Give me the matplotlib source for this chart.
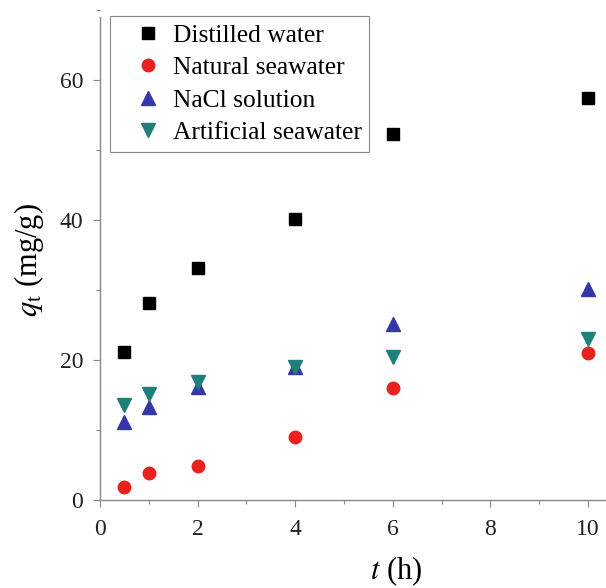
import matplotlib
matplotlib.use("Agg")
import matplotlib.pyplot as pyplot
from matplotlib.ticker import MultipleLocator

# adsorption capacity vs time
t_h = [0.5, 1, 2, 4, 6, 10]
distilled = [21.1, 28.1, 33.1, 40.1, 52.3, 57.4]
natural_sea = [1.9, 3.9, 4.8, 9.0, 16.0, 21.0]
nacl = [11.1, 13.3, 16.2, 19.0, 25.1, 30.1]
artificial_sea = [13.6, 15.2, 16.9, 19.0, 20.4, 23.0]

labels = ["Distilled water", "Natural seawater", "NaCl solution", "Artificial seawater"]

pyplot.rcParams["font.family"] = ["Liberation Serif", "DejaVu Serif"]
pyplot.rcParams["mathtext.fontset"] = "stix"

fig = pyplot.figure(figsize=(6.06, 5.88), dpi=100)
ax = fig.add_axes([100 / 606, 88 / 588, 506 / 606, 500 / 588])

ax.plot(t_h, distilled, "s", color="black", markersize=8.5, label=labels[0])
ax.plot(t_h, natural_sea, "o", color="#e8221e", markersize=9, label=labels[1])
ax.plot(t_h, nacl, "^", color="#3537a6", markersize=10, label=labels[2])
ax.plot(t_h, artificial_sea, "v", color="#1e8079", markersize=10, label=labels[3])

ax.set_xlim(0, 10.37)
ax.set_ylim(0, 71.4)
ax.xaxis.set_major_locator(MultipleLocator(2))
ax.xaxis.set_minor_locator(MultipleLocator(1))
ax.yaxis.set_major_locator(MultipleLocator(20))
ax.yaxis.set_minor_locator(MultipleLocator(10))

for s in ["top", "right"]:
    ax.spines[s].set_visible(False)
for s in ["left", "bottom"]:
    ax.spines[s].set_color("#888888")
    ax.spines[s].set_linewidth(1.0)
ax.spines["left"].set_bounds(0, 69)

ax.tick_params(which="major", direction="out", length=5, width=0.8, color="#888888",
               labelsize=17, labelcolor="#222222")
ax.tick_params(which="minor", direction="out", length=3, width=0.8, color="#888888")
ax.tick_params(axis="x", which="major", pad=9)
ax.tick_params(axis="y", which="major", pad=7)

ax.set_xlabel("$t$ (h)", fontsize=22)
ax.xaxis.set_label_coords((396 - 100) / 506, -(571 - 500) / 500, transform=ax.transAxes)
ax.xaxis.label.set_verticalalignment("center")
ax.set_ylabel("$q_\\mathrm{t}$ (mg/g)", fontsize=22)
ax.yaxis.set_label_coords(-(100 - 29) / 506, (500 - 260) / 500, transform=ax.transAxes)
ax.yaxis.label.set_verticalalignment("center")

leg = ax.legend(loc="upper left", bbox_to_anchor=(10 / 506, (500 - 16) / 500),
                fontsize=18.4, frameon=True, fancybox=False, framealpha=1,
                edgecolor="#888888", borderaxespad=0, handletextpad=-0.2,
                labelspacing=0.38, borderpad=0.3, handlelength=2.35)
leg.get_frame().set_linewidth(0.8)

fig.savefig("out.png", dpi=100)
